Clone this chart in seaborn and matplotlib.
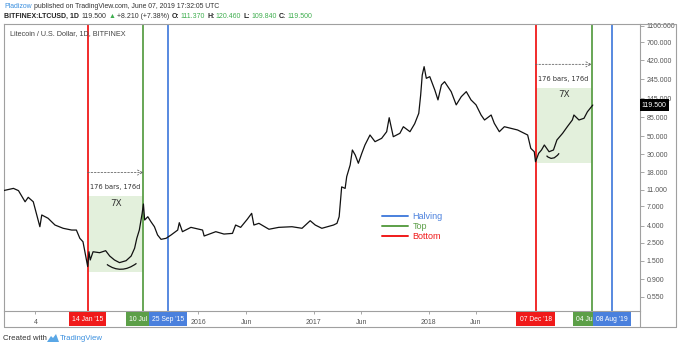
import numpy as np
import pandas as pd
import matplotlib
matplotlib.use("Agg")
import matplotlib.pyplot as plt
import matplotlib.transforms as mtransforms
from matplotlib.patches import PathPatch, Polygon
from matplotlib.path import Path
from matplotlib.lines import Line2D
from matplotlib.ticker import NullLocator
import seaborn as sns

# LTC/USD daily closes (BITFINEX), sampled at turning points
dates = ["2014-04-21", "2014-05-23", "2014-06-08", "2014-06-29", "2014-07-09", "2014-07-25",
         "2014-08-05", "2014-08-15", "2014-08-21", "2014-09-10", "2014-10-02", "2014-10-28",
         "2014-11-24", "2014-12-09", "2014-12-20", "2014-12-30", "2015-01-08", "2015-01-14",
         "2015-01-18", "2015-01-22", "2015-01-31", "2015-02-21", "2015-03-12", "2015-03-25",
         "2015-04-09", "2015-04-25", "2015-05-16", "2015-06-01", "2015-06-12", "2015-06-19",
         "2015-06-27", "2015-07-06", "2015-07-10", "2015-07-14", "2015-07-24", "2015-08-03",
         "2015-08-14", "2015-08-24", "2015-09-04", "2015-09-20", "2015-10-06", "2015-10-27",
         "2015-11-01", "2015-11-11", "2015-12-08", "2016-01-14", "2016-01-19", "2016-02-25",
         "2016-03-22", "2016-04-18", "2016-04-28", "2016-05-14", "2016-06-04", "2016-06-18",
         "2016-06-25", "2016-07-11", "2016-08-12", "2016-09-12", "2016-10-24", "2016-11-25",
         "2016-12-21", "2017-01-06", "2017-01-27", "2017-03-05", "2017-03-16", "2017-03-23",
         "2017-03-26", "2017-03-31", "2017-04-11", "2017-04-16", "2017-04-27", "2017-05-04",
         "2017-05-13", "2017-05-23", "2017-06-03", "2017-06-13", "2017-06-29", "2017-07-15",
         "2017-08-05", "2017-08-21", "2017-08-29", "2017-09-11", "2017-10-02", "2017-10-13",
         "2017-11-03", "2017-11-18", "2017-12-01", "2017-12-07", "2017-12-12", "2017-12-18",
         "2017-12-25", "2018-01-05", "2018-01-21", "2018-01-31", "2018-02-11", "2018-02-21",
         "2018-03-14", "2018-03-30", "2018-04-15", "2018-05-01", "2018-05-16", "2018-06-01",
         "2018-06-17", "2018-06-28", "2018-07-19", "2018-07-29", "2018-08-14", "2018-08-30",
         "2018-09-20", "2018-10-11", "2018-11-01", "2018-11-12", "2018-11-22", "2018-12-03",
         "2018-12-07", "2018-12-17", "2018-12-26", "2019-01-04", "2019-01-19", "2019-02-02",
         "2019-02-13", "2019-03-03", "2019-03-18", "2019-04-03", "2019-04-08", "2019-04-24",
         "2019-05-10", "2019-05-21", "2019-06-07"]
prices = [10.8, 11.5, 10.8, 7.9, 8.95, 7.9, 5.45, 3.92, 5.45, 4.97, 4.11, 3.75,
          3.57, 3.57, 2.83, 2.57, 1.69, 1.28, 1.94, 1.54, 1.94, 1.89, 2.0, 1.72,
          1.54, 1.43, 1.51, 1.72, 2.14, 2.83, 3.57, 5.71, 7.42, 4.73, 5.19, 4.51,
          3.92, 3.11, 2.75, 2.83, 3.11, 3.57, 4.39, 3.41, 3.85, 3.57, 3.02, 3.41,
          3.19, 3.25, 4.11, 3.85, 4.83, 5.71, 4.11, 4.31, 3.65, 3.85, 3.92, 3.75,
          4.64, 4.11, 3.75, 4.11, 4.31, 5.19, 7.21, 12.0, 11.5, 16.0, 22.2, 33.8,
          29.4, 23.3, 30.8, 38.9, 51.5, 42.7, 46.9, 56.5, 83.7, 49.1, 54.0, 65.0,
          56.5, 70.7, 94.7, 158, 277, 351, 253, 265, 182, 138, 210, 230,
          174, 120, 151, 174, 138, 120, 90.3, 78.5, 90.3, 71.5, 56.5, 65.0,
          62.1, 59.3, 54.0, 51.5, 35.4, 32.2, 24.3, 30.8, 33.8, 38.9, 32.2, 33.8,
          44.8, 54.0, 65.0, 78.5, 90.3, 78.5, 82.3, 99.0, 119.5]

# Marked events (bottom / top / halving)
event_dates = ["2015-01-14", "2015-07-10", "2015-09-25", "2018-12-07", "2019-06-04", "2019-08-08"]
event_labels = ["14 Jan '15", "10 Jul '15", "25 Sep '15", "07 Dec '18", "04 Jun '19", "08 Aug '19"]
event_kinds = ["Bottom", "Top", "Halving", "Bottom", "Top", "Halving"]

# Bottom-to-top ranges
range_starts = ["2015-01-14", "2018-12-07"]
range_ends = ["2015-07-10", "2019-06-04"]
range_lows = [1.1, 23.3]
range_highs = [9.3, 194]

y_ticks = [0.55, 0.9, 1.5, 2.5, 4, 7, 11, 18, 30, 50, 85, 145, 245, 420, 700, 1100]
x_tick_dates = ["2014-08-01", "2016-01-01", "2016-06-01", "2017-01-01", "2017-06-01",
                "2018-01-01", "2018-06-01"]
x_tick_labels = ["4", "2016", "Jun", "2017", "Jun", "2018", "Jun"]
last_price = 119.5

COLORS = {"Halving": "#4a80dd", "Top": "#5c9f48", "Bottom": "#f01a1a"}
FRAME = "#a0a0a0"

sns.set_theme(style="white")
plt.rcParams['font.family'] = ['Liberation Sans', 'DejaVu Sans']

W, H = 680, 348
fig = plt.figure(figsize=(W / 100, H / 100), dpi=100)


def fx(px):
    return px / W


def fy(py):
    return 1 - py / H


L, R, T, B = 4, 640, 24, 311
ax = fig.add_axes([fx(L), fy(B), fx(R - L), (B - T) / H])
ax.set_facecolor("white")

df = pd.DataFrame({"date": pd.to_datetime(dates), "price": prices})
sns.lineplot(data=df, x="date", y="price", ax=ax, color="#111111", lw=0.9, zorder=3)
ax.set_yscale("log")
ax.set_ylim(0.3676, 1163)
ax.set_xlim(pd.Timestamp("2014-04-23"), pd.Timestamp("2019-11-04"))
ax.set_xlabel("")
ax.set_ylabel("")

# shaded bottom-to-top ranges with duration arrows and labels
for s, e, lo, hi in zip(range_starts, range_ends, range_lows, range_highs):
    s, e = pd.Timestamp(s), pd.Timestamp(e)
    ax.fill_between([s, e], lo, hi, color="#e3f0dc", lw=0, zorder=0)
    mid = s + (e - s) / 2
    arrow_y = hi * 1.93
    ax.annotate("", xy=(e, arrow_y), xytext=(s, arrow_y),
                arrowprops=dict(arrowstyle="->,head_length=0.3,head_width=0.15",
                                color="#666666", lw=0.6, ls=(0, (2, 2)),
                                shrinkA=0, shrinkB=0), zorder=4)
    ax.text(mid, hi * 1.29, "176 bars, 176d", ha="center", va="center",
            fontsize=4.8, color="#333333", family="DejaVu Sans", zorder=4)
    ax.text(mid, hi * 0.82, "7X", ha="center", va="center",
            fontsize=6.3, color="#333333", family="DejaVu Sans", zorder=4)

# event lines and their date tags on the time axis
xt = ax.get_xaxis_transform()
for i, (d, lab, kind) in enumerate(zip(event_dates, event_labels, event_kinds)):
    d = pd.Timestamp(d)
    ax.axvline(d, color=COLORS[kind], lw=1.3, zorder=2)
    ax.text(d, -0.028, lab, transform=xt, ha="center", va="center", fontsize=4.9,
            color="white", clip_on=False, zorder=10 + i,
            bbox=dict(boxstyle="square,pad=0.45", fc=COLORS[kind], ec="none"))

# hand-drawn "smile" curves under the two bottoms
smiles = [(("2015-03-16", 1.36), ("2015-04-30", 1.02), ("2015-06-18", 1.40)),
          (("2019-01-11", 28.8), ("2019-01-30", 24.0), ("2019-02-20", 30.8))]
for pts in smiles:
    verts = [(matplotlib.dates.date2num(pd.Timestamp(d)), v) for d, v in pts]
    ax.add_patch(PathPatch(Path(verts, [Path.MOVETO, Path.CURVE3, Path.CURVE3]),
                           fc="none", ec="#111111", lw=0.9, zorder=4))

# legend
handles = [Line2D([], [], color=COLORS[k], lw=1.4, label=k) for k in ["Halving", "Top", "Bottom"]]
ax.legend(handles=handles, loc="upper left", bbox_to_anchor=(0.594, 0.345),
          frameon=False, labelcolor="linecolor", fontsize=6.5, handlelength=2.9,
          handletextpad=0.5, labelspacing=0.12, borderpad=0, borderaxespad=0)

# axes styling
ax.yaxis.tick_right()
ax.set_yticks(y_ticks)
ax.set_yticklabels([f"{t:.3f}" for t in y_ticks])
ax.yaxis.set_minor_locator(NullLocator())
ax.tick_params(axis="y", length=3, width=0.6, color="#999999", labelcolor="#555555",
               labelsize=5, pad=2, right=True, left=False)
ax.set_xticks(pd.to_datetime(x_tick_dates))
ax.set_xticklabels(x_tick_labels)
ax.xaxis.set_minor_locator(NullLocator())
ax.tick_params(axis="x", length=2.5, width=0.6, color="#999999", labelcolor="#555555",
               labelsize=5, pad=3, bottom=True)
for sp in ax.spines.values():
    sp.set_color(FRAME)
    sp.set_linewidth(0.8)
ax.grid(False)

# last price tag on the price axis
yt = mtransforms.blended_transform_factory(ax.transAxes, ax.transData)
ax.text(1.003, last_price, f"{last_price:.3f}", transform=yt, ha="left", va="center",
        fontsize=5, color="white", clip_on=False, zorder=20,
        bbox=dict(boxstyle="square,pad=0.3", fc="black", ec="none"))

# outer frame of price axis and time axis
for (x0, y0, x1, y1) in [(4, 327, 676, 327), (676, 24, 676, 327), (4, 311, 4, 327),
                         (640, 311, 640, 327), (640, 24, 676, 24)]:
    fig.add_artist(Line2D([fx(x0), fx(x1)], [fy(y0), fy(y1)], color=FRAME, lw=0.8))

# header and footer text runs
renderer = fig.canvas.get_renderer()


def write_run(x_px, y_px, pieces, size):
    x = x_px
    for text, color, weight, gap in pieces:
        t = fig.text(fx(x), fy(y_px), text, color=color, fontsize=size, fontweight=weight,
                     va="center", ha="left")
        x += t.get_window_extent(renderer=renderer).width + gap


TV_BLUE = "#3a8fdf"
GREEN_TXT = "#3fae4f"
write_run(4, 7, [("Pladizow", TV_BLUE, "normal", 2),
                 ("published on TradingView.com, June 07, 2019 17:32:05 UTC", "#333333", "normal", 0)], 4.95)
write_run(4, 16, [("BITFINEX:LTCUSD, 1D", "#222222", "bold", 3),
                  ("119.500", "#333333", "normal", 2),
                  ("\u25b2", GREEN_TXT, "normal", 1.5),
                  ("+8.210 (+7.38%)", "#333333", "normal", 2.5),
                  ("O:", "#222222", "bold", 1),
                  ("111.370", GREEN_TXT, "normal", 2.5),
                  ("H:", "#222222", "bold", 1),
                  ("120.460", GREEN_TXT, "normal", 2.5),
                  ("L:", "#222222", "bold", 1),
                  ("109.840", GREEN_TXT, "normal", 2.5),
                  ("C:", "#222222", "bold", 1),
                  ("119.500", GREEN_TXT, "normal", 0)], 5.0)
fig.text(fx(10), fy(34), "Litecoin / U.S. Dollar, 1D, BITFINEX", color="#444444",
         fontsize=5.2, va="center", ha="left")

fig.text(fx(3), fy(338), "Created with", color="#333333", fontsize=5.6, va="center", ha="left")
# small logo mark
logo = [(47, 342), (51, 336), (53, 338), (56, 334), (59, 342)]
fig.add_artist(Polygon([(fx(a), fy(b)) for a, b in logo], closed=True, fc="#5aa7e6",
                       ec="none", transform=fig.transFigure))
fig.text(fx(60), fy(338), "TradingView", color=TV_BLUE, fontsize=5.6, va="center", ha="left")

fig.savefig("out.png", dpi=100, facecolor="white")
